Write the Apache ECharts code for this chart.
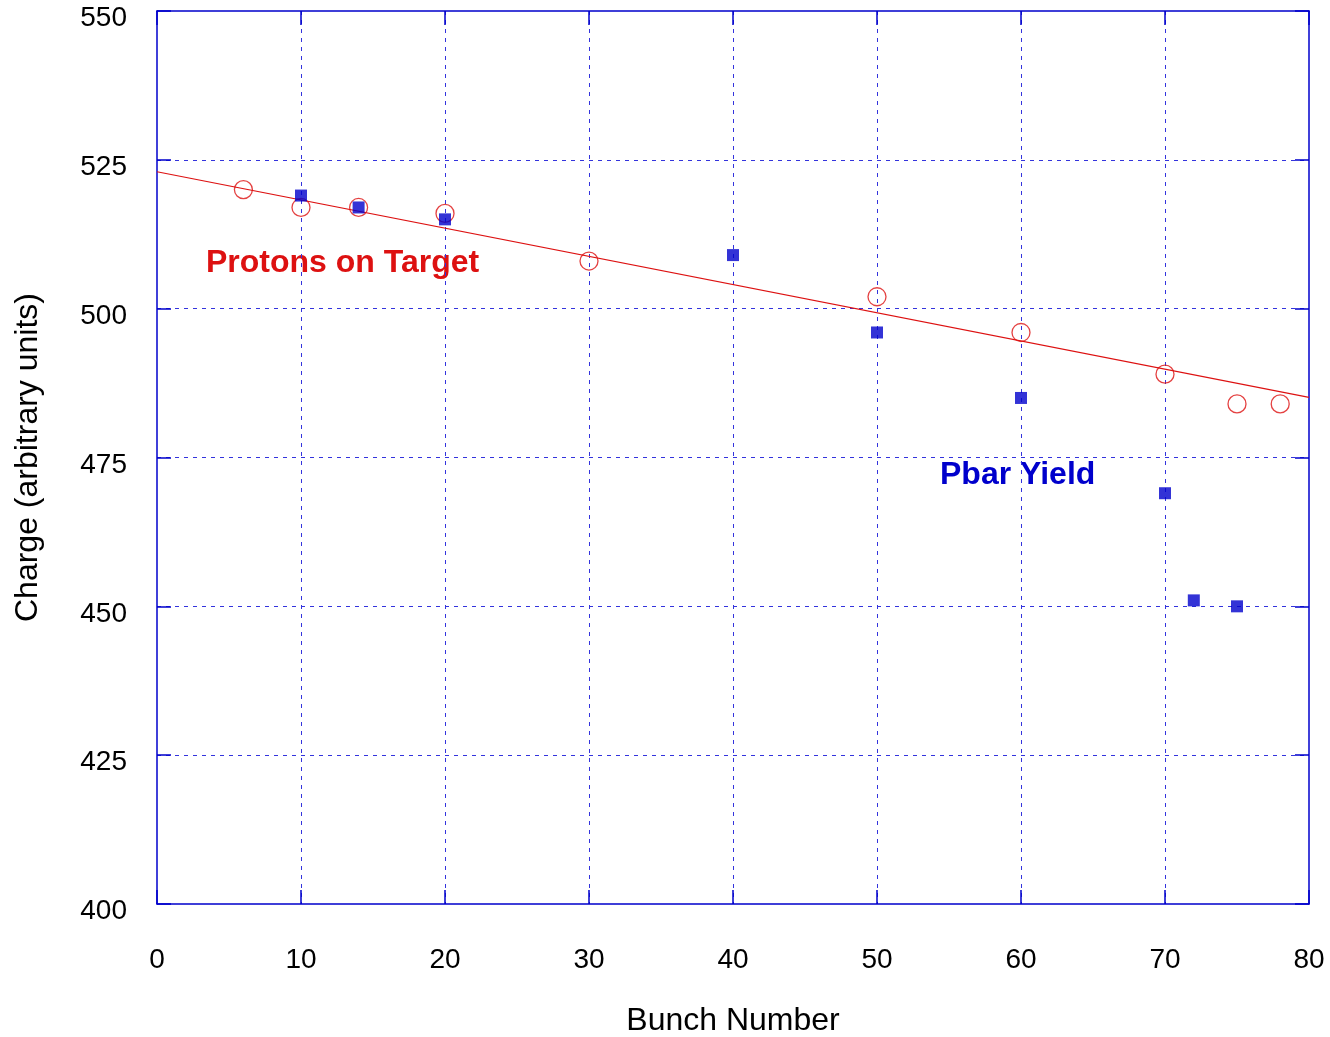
<!DOCTYPE html>
<html>
<head>
<meta charset="utf-8">
<script src="https://cdn.jsdelivr.net/npm/echarts@6/dist/echarts.min.js"></script>
<style>
html, body { margin: 0; padding: 0; background: #fff; }
#main { width: 1330px; height: 1037px; }
</style>
</head>
<body>
<div id="main"></div>
<script>
// protons on target (open circles)
var protonX = [6, 10, 14, 20, 30, 50, 60, 70, 75, 78];
var protonY = [520, 517, 517, 516, 508, 502, 496, 489, 484, 484];
// pbar yield (filled squares)
var pbarX = [10, 14, 20, 40, 50, 60, 70, 72, 75];
var pbarY = [519, 517, 515, 509, 496, 485, 469, 451, 450];
// fitted line end points
var fitX = [0, 80];
var fitY = [523, 485.1];

function pairs(xs, ys) {
	var out = [];
	for (var i = 0; i < xs.length; i++) {
		out.push([xs[i], ys[i]]);
	}
	return out;
}

var blue = '#0000cc';
var red = '#dd1111';
var gridLine = {
	show: true,
	showMinLine: false,
	showMaxLine: false,
	lineStyle: { color: '#3333dd', type: [4, 5], width: 1 }
};
var tickIn = { show: true, inside: true, length: 14, lineStyle: { color: blue, width: 1.5 } };

var myChart = echarts.init(document.getElementById('main'));

var option = {
	animation: false,
	backgroundColor: '#fff',
	grid: { left: 157, top: 11, right: 21, bottom: 133, outerBoundsMode: 'none', containLabel: false },
	xAxis: [{
		type: 'value',
		min: 0, max: 80, interval: 10,
		name: 'Bunch Number',
		nameLocation: 'middle',
		nameGap: 101,
		nameTextStyle: { fontSize: 32, color: '#000', fontFamily: 'Liberation Sans' },
		axisLine: { show: true, onZero: false, lineStyle: { color: blue, width: 1.5 } },
		axisTick: tickIn,
		axisLabel: { fontSize: 28, color: '#000', margin: 42, fontFamily: 'Liberation Sans' },
		splitLine: gridLine
	}, {
		type: 'value',
		position: 'top',
		min: 0, max: 80, interval: 10,
		axisLine: { show: true, onZero: false, lineStyle: { color: blue, width: 1.5 } },
		axisTick: tickIn,
		axisLabel: { show: false },
		splitLine: { show: false }
	}],
	yAxis: [{
		type: 'value',
		position: 'left',
		min: 400, max: 550, interval: 25,
		name: 'Charge (arbitrary units)',
		nameLocation: 'middle',
		nameGap: 113,
		nameTextStyle: { fontSize: 32, color: '#000', fontFamily: 'Liberation Sans' },
		axisLine: { show: true, onZero: false, lineStyle: { color: blue, width: 1.5 } },
		axisTick: tickIn,
		axisLabel: {
			margin: 30,
			formatter: '{v|{value}}',
			rich: { v: { fontSize: 28, color: '#000', fontFamily: 'Liberation Sans', padding: [15, 0, 0, 0] } }
		},
		splitLine: gridLine
	}, {
		type: 'value',
		position: 'right',
		min: 400, max: 550, interval: 25,
		axisLine: { show: true, onZero: false, lineStyle: { color: blue, width: 1.5 } },
		axisTick: tickIn,
		axisLabel: { show: false },
		splitLine: { show: false }
	}],
	graphic: [{
		type: 'text',
		left: 206, top: 247,
		style: { text: 'Protons on Target', fill: red, font: 'bold 32px "Liberation Sans"' }
	}, {
		type: 'text',
		left: 940, top: 459,
		style: { text: 'Pbar Yield', fill: blue, font: 'bold 32px "Liberation Sans"' }
	}],
	series: [{
		name: 'fit',
		type: 'line',
		data: pairs(fitX, fitY),
		symbol: 'none',
		lineStyle: { color: red, width: 1.2 },
		z: 2
	}, {
		name: 'Protons on Target',
		type: 'scatter',
		data: pairs(protonX, protonY),
		symbol: 'circle',
		symbolSize: 18,
		itemStyle: { color: 'rgba(0,0,0,0)', borderColor: red, borderWidth: 1.3 },
		z: 3
	}, {
		name: 'Pbar Yield',
		type: 'scatter',
		data: pairs(pbarX, pbarY),
		symbol: 'rect',
		symbolSize: 12,
		itemStyle: { color: blue },
		z: 4
	}]
};

myChart.setOption(option);
</script>
</body>
</html>
